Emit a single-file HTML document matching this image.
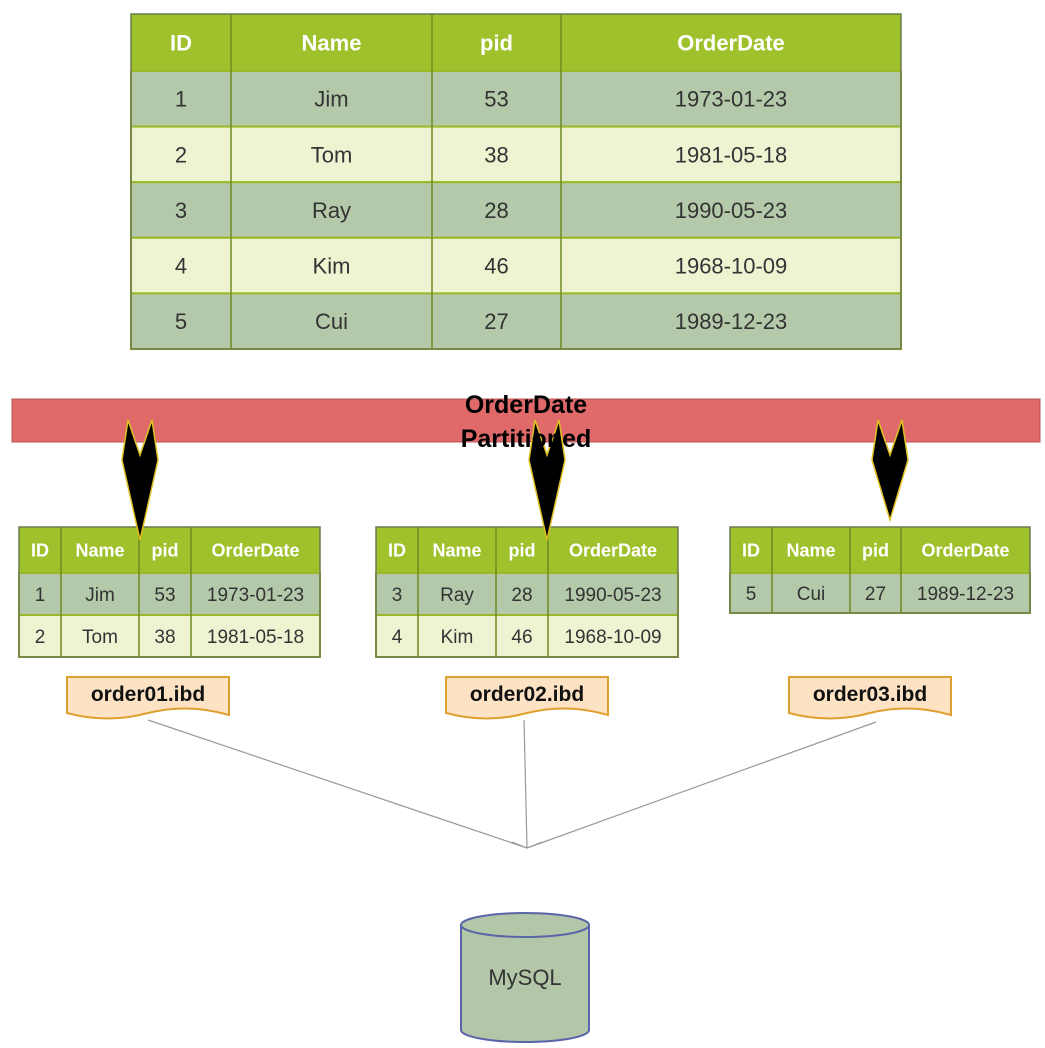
<!DOCTYPE html>
<html><head><meta charset="utf-8"><style>
body{margin:0;background:#fff}
svg{display:block;font-family:"Liberation Sans",sans-serif}
</style></head><body>
<svg id="s" width="1045" height="1048" viewBox="0 0 1045 1048">
<g id="tables"></g>
<rect x="12" y="399" width="1028" height="43" fill="#e06a6a" stroke="#b85555"/>
<g id="arrows"></g>
<text x="526" y="413" text-anchor="middle" font-size="25" font-weight="bold">OrderDate</text>
<text x="526" y="447" text-anchor="middle" font-size="25" font-weight="bold">Partitioned</text>
<g id="files"></g>
<g stroke="#999" stroke-width="1.2" fill="none">
<line x1="148" y1="720" x2="527" y2="848"/>
<line x1="524" y1="720" x2="527" y2="848"/>
<line x1="876" y1="722" x2="527" y2="848"/>
<path d="M512 842 L527 848 L542 842"/>
</g>
<g>
<path d="M461 925 L461 1030 A64 12 0 0 0 589 1030 L589 925" fill="#b3c7a8" stroke="#5a64a8" stroke-width="2"/>
<ellipse cx="525" cy="925" rx="64" ry="12" fill="#b3c7a8" stroke="#5a64a8" stroke-width="2"/>
<text x="525" y="985" text-anchor="middle" font-size="22" fill="#333">MySQL</text>
</g>
</svg>
<script>
const headers=["ID","Name","pid","OrderDate"];
const rows=[["1","Jim","53","1973-01-23"],["2","Tom","38","1981-05-18"],["3","Ray","28","1990-05-23"],["4","Kim","46","1968-10-09"],["5","Cui","27","1989-12-23"]];
const NS="http://www.w3.org/2000/svg";
function mk(t,a,p){const e=document.createElementNS(NS,t);for(const k in a)e.setAttribute(k,a[k]);p.appendChild(e);return e;}
function table(name,x0,cols,y0,hh,rh,data,fs,hfs){
  const g=mk('g',{},document.getElementById('tables'));
  
  
  const xs=[x0,...cols];
  const w=xs[xs.length-1]-x0;
  mk('rect',{x:x0,y:y0,width:w,height:hh,fill:'#9fc22c'},g);
  data.forEach((r,i)=>{mk('rect',{x:x0,y:y0+hh+i*rh,width:w,height:rh,fill:(r[0]%2)?'#b4c8aa':'#eef3d2',stroke:'#9ab82a','stroke-width':2},g);});
  for(let c=1;c<xs.length-1;c++)mk('line',{x1:xs[c],x2:xs[c],y1:y0,y2:y0+hh+rh*data.length,stroke:'#6f8a22','stroke-width':1.5},g);
  mk('rect',{x:x0,y:y0,width:w,height:hh+rh*data.length,fill:'none',stroke:'#6a7a50','stroke-width':1.5},g);
  headers.forEach((h,c)=>{const t=mk('text',{x:(xs[c]+xs[c+1])/2,y:y0+hh/2+hfs*0.36,'text-anchor':'middle','font-size':hfs,'font-weight':'bold',fill:'#fff'},g);t.textContent=h;});
  data.forEach((r,i)=>r.forEach((v,c)=>{const t=mk('text',{x:(xs[c]+xs[c+1])/2,y:y0+hh+i*rh+rh/2+fs*0.36,'text-anchor':'middle','font-size':fs,fill:'#333'},g);t.textContent=v;}));
}
table('main-table',131,[231,432,561,901],14,57,55.6,rows,22,22);
table('partition-table-1',19,[61,139,191,320],527,46,42,rows.slice(0,2),19,18);
table('partition-table-2',376,[418,496,548,678],527,46,42,rows.slice(2,4),19,18);
table('partition-table-3',730,[772,850,901,1030],527,46,40,rows.slice(4),19,18);
const ag=document.getElementById('arrows');
[[140,420,540],[547,420,540],[890,420,520]].forEach((a,i)=>{const [x,y1,y2]=a;
 const p=mk('path',{d:`M${x} ${y2} L${x-18} ${y1+40} L${x-12} ${y1} L${x} ${y1+35} L${x+12} ${y1} L${x+18} ${y1+40} Z`,fill:'#000',stroke:'#e0c020','stroke-width':1.5},ag);
 
 });
const fg=document.getElementById('files');
[["order01.ibd",67],["order02.ibd",446],["order03.ibd",789]].forEach(f=>{const [n,x]=f;const w=162;
 const g=mk('g',{},fg);
 
 
 mk('path',{d:`M${x} 677 L${x+w} 677 L${x+w} 715 Q${x+w*0.75} 703 ${x+w/2} 713 Q${x+w*0.25} 724 ${x} 713 Z`,fill:'#fde3c4',stroke:'#e0a030','stroke-width':2},g);
 const t=mk('text',{x:x+w/2,y:701,'text-anchor':'middle','font-size':21,'font-weight':'bold',fill:'#111'},g);t.textContent=n;});
</script>
</body></html>
